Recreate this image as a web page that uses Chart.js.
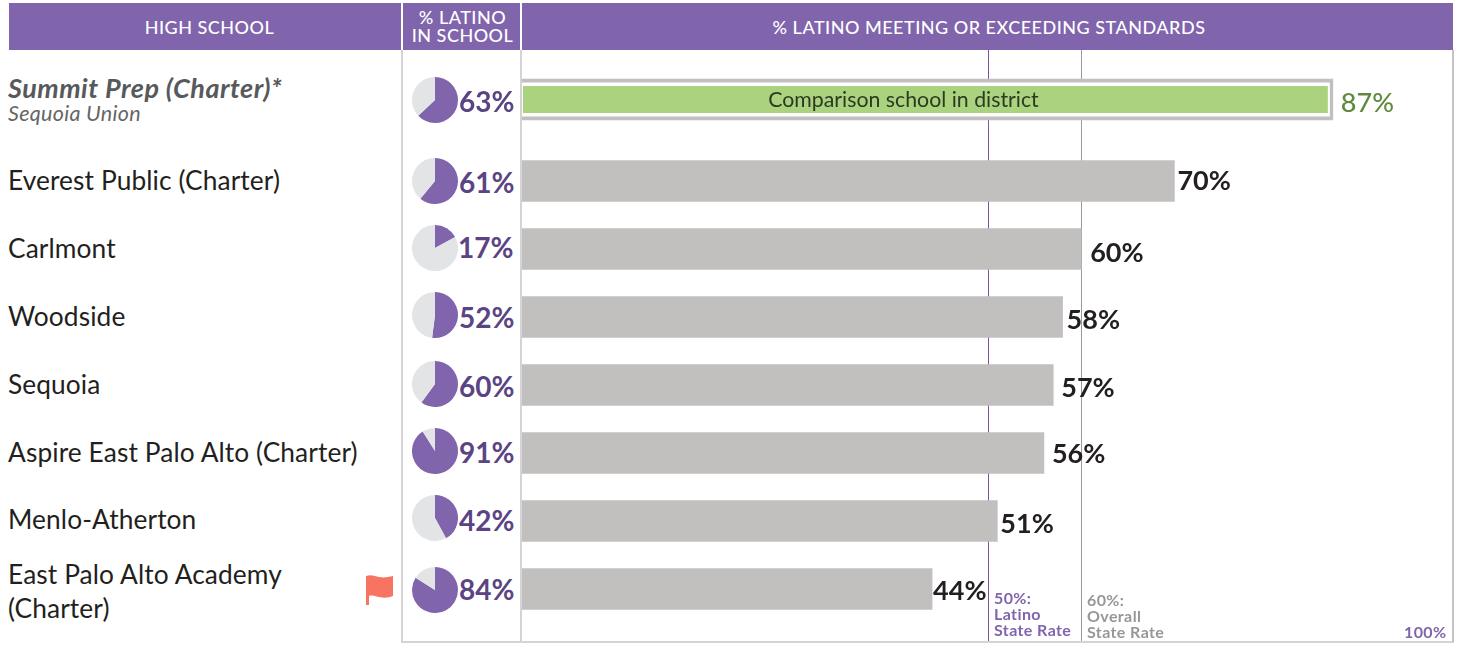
<!DOCTYPE html>
<html>
<head>
<meta charset="utf-8">
<title>% Latino meeting or exceeding standards</title>
<script src="https://cdn.jsdelivr.net/npm/chart.js@4"></script>
<style>
  html, body { margin: 0; padding: 0; background: #fff; }
  body { width: 1462px; height: 655px; position: relative; overflow: hidden; font-family: Lato, sans-serif; }
  .box { position: absolute; }
  .txt { position: absolute; white-space: nowrap; line-height: 1; }
  .head { color: #fff; font-weight: 500; font-size: 18px; letter-spacing: 0.5px; text-align: center; }
  .school { color: #231f20; font-size: 26.3px; letter-spacing: 0.1px; left: 8px; transform: translateY(-50%); }
  .pct { color: #5a4483; font-size: 28px; font-weight: 700; transform: translateY(-50%); }
  .note { font-size: 16px; letter-spacing: 0.4px; font-weight: 700; }
  canvas { position: absolute; }
</style>
</head>
<body>
<div class="box" style="left:9px;top:3px;width:1444px;height:47px;background:#8064ac"></div>
<div class="box" style="left:401px;top:3px;width:2px;height:47px;background:#fff"></div>
<div class="box" style="left:520px;top:3px;width:2px;height:47px;background:#fff"></div>
<div class="box" style="left:401px;top:50px;width:2px;height:592px;background:#d4d4d6"></div>
<div class="box" style="left:520px;top:50px;width:2px;height:592px;background:#d4d4d6"></div>
<div class="box" style="left:401px;top:641px;width:1053px;height:2px;background:#d4d4d6"></div>
<div class="box" style="left:1452px;top:50px;width:2px;height:592px;background:#c4c4c8"></div>

<div class="txt head" style="left:9px;width:401px;top:18px">HIGH SCHOOL</div>
<div class="txt head" style="left:403px;width:119px;top:8px;line-height:18px">% LATINO<br>IN SCHOOL</div>
<div class="txt head" style="left:522px;width:934px;top:18px">% LATINO MEETING OR EXCEEDING STANDARDS</div>

<canvas id="barsTop" width="932" height="96" style="left:522px;top:50px;width:932px;height:96px"></canvas>
<canvas id="barsRows" width="932" height="495" style="left:522px;top:146px;width:932px;height:495px"></canvas>

<div class="txt" style="left:522px;width:763px;top:89px;text-align:center;font-size:21.3px;color:#2b3a20">Comparison school in district</div>

<div class="txt note" style="left:994px;top:590px;color:#8064ac;line-height:16px">50%:<br>Latino<br>State Rate</div>
<div class="txt note" style="left:1087px;top:592px;color:#97979b;line-height:16px">60%:<br>Overall<br>State Rate</div>
<div class="txt note" style="left:1404px;top:624px;color:#8064ac">100%</div>

<svg class="box" style="left:365px;top:574px" width="29" height="32" viewBox="0 0 29 32">
  <path d="M1 2 C6 0 10 2 14 3 C19 4 23 3 28 2 L28 22 C23 24 19 24 14 23 C10 22 6 21 4 22 L4 31 L1 31 Z" fill="#f77462"/>
</svg>

<script>
const schools = ['Summit Prep (Charter)*', 'Everest Public (Charter)', 'Carlmont', 'Woodside', 'Sequoia',
    'Aspire East Palo Alto (Charter)', 'Menlo-Atherton', 'East Palo Alto Academy (Charter)'];
const latinoInSchool = [63, 61, 17, 52, 60, 91, 42, 84];
const meetingStandards = [87, 70, 60, 58, 57, 56, 51, 44];
const stateRates = [50, 60];

// layout of the left columns, px
const rowY = [100, 181, 248, 315, 384, 451, 518, 590];
const nameY = [87, 180, 248, 316, 384, 452, 519, 591];
const pctY = [101, 182, 247, 317, 386, 452, 520, 589];
const labelGap = [8, 3, 9, 4, 8, 8, 3, 1];
const labelDy = [4, 0, 4, 3, 3, 1, 3, 2];

const rateLines = {
    id: 'rateLines',
    beforeDatasetsDraw(chart) {
        const ctx = chart.ctx, x = chart.scales.x;
        ['#7a52a8', '#9a9a9e'].forEach((c, i) => {
            const px = Math.round(x.getPixelForValue(stateRates[i])) + 0.5;
            ctx.save();
            ctx.strokeStyle = c;
            ctx.lineWidth = 1;
            ctx.beginPath();
            ctx.moveTo(px, 0);
            ctx.lineTo(px, chart.height);
            ctx.stroke();
            ctx.restore();
        });
    }
};

// comparison bar: the grey bar is the frame, white and green sit inside it
const comparisonFill = {
    id: 'comparisonFill',
    afterDatasetsDraw(chart) {
        const ctx = chart.ctx;
        const bar = chart.getDatasetMeta(0).data[0];
        const top = bar.y - bar.height / 2, h = bar.height, right = bar.x;
        ctx.save();
        ctx.fillStyle = '#fff';
        ctx.fillRect(0, top + 3.5, right - 3, h - 7);
        ctx.fillStyle = '#abd37f';
        ctx.fillRect(1, top + 7, right - 6, h - 14);
        ctx.restore();
    }
};

const valueLabels = {
    id: 'valueLabels',
    afterDraw(chart) {
        const ctx = chart.ctx;
        const first = chart.options.firstRow;
        ctx.save();
        ctx.textBaseline = 'middle';
        chart.getDatasetMeta(0).data.forEach((bar, i) => {
            const n = first + i;
            ctx.font = (n === 0 ? '500' : '700') + ' 27px Lato';
            ctx.fillStyle = n === 0 ? '#5e8a3f' : '#231f20';
            ctx.fillText(meetingStandards[n] + '%', bar.x + labelGap[n], bar.y + labelDy[n]);
        });
        ctx.restore();
    }
};

function drawBars(id, first, last, padding, extra) {
    new Chart(document.getElementById(id), {
        type: 'bar',
        data: {
            labels: schools.slice(first, last),
            datasets: [{
                data: meetingStandards.slice(first, last),
                backgroundColor: '#c1c0be',
                barThickness: 41
            }]
        },
        options: {
            firstRow: first,
            indexAxis: 'y',
            responsive: false,
            animation: false,
            layout: { padding: padding },
            plugins: { legend: { display: false }, tooltip: { enabled: false } },
            scales: {
                x: { type: 'linear', min: 0, max: 100, display: false },
                y: { display: false }
            }
        },
        plugins: [rateLines].concat(extra, valueLabels)
    });
}

// Summit Prep sits apart from the seven evenly spaced rows, so it gets its own chart
drawBars('barsTop', 0, 1, { top: 3 }, [comparisonFill]);
drawBars('barsRows', 1, 8, { top: 1, bottom: 18 }, []);

schools.forEach((name, i) => {
    const c = document.createElement('canvas');
    c.width = 46;
    c.height = 46;
    c.style.cssText = 'left:' + 412 + 'px;top:' + (rowY[i] - 23) + 'px;width:46px;height:46px';
    document.body.appendChild(c);
    new Chart(c, {
        type: 'pie',
        data: {
            labels: ['Latino', 'Other'],
            datasets: [{
                data: [latinoInSchool[i], 100 - latinoInSchool[i]],
                backgroundColor: ['#8064ac', '#e3e4e6'],
                borderWidth: 0
            }]
        },
        options: {
            responsive: false,
            animation: false,
            plugins: { legend: { display: false }, tooltip: { enabled: false } }
        }
    });

    const pct = document.createElement('div');
    pct.className = 'txt pct';
    pct.style.left = (i === 2 ? 458 : 459) + 'px';
    pct.style.top = pctY[i] + 'px';
    pct.textContent = latinoInSchool[i] + '%';
    document.body.appendChild(pct);

    if (i === 0) return;
    const t = document.createElement('div');
    t.className = 'txt school';
    t.style.top = nameY[i] + 'px';
    if (i === 7) {
        t.style.lineHeight = '34px';
        t.innerHTML = 'East Palo Alto Academy<br>(Charter)';
    } else {
        t.textContent = name;
    }
    document.body.appendChild(t);
});

const s = document.createElement('div');
s.className = 'txt school';
s.style.cssText = 'top:' + nameY[0] + 'px;font-size:27px;letter-spacing:0.5px;font-weight:700;font-style:italic;color:#58595b';
s.textContent = schools[0];
document.body.appendChild(s);
const d = document.createElement('div');
d.className = 'txt school';
d.style.cssText = 'top:114px;font-size:21.5px;letter-spacing:0.3px;font-style:italic;color:#666';
d.textContent = 'Sequoia Union';
document.body.appendChild(d);
</script>
</body>
</html>
